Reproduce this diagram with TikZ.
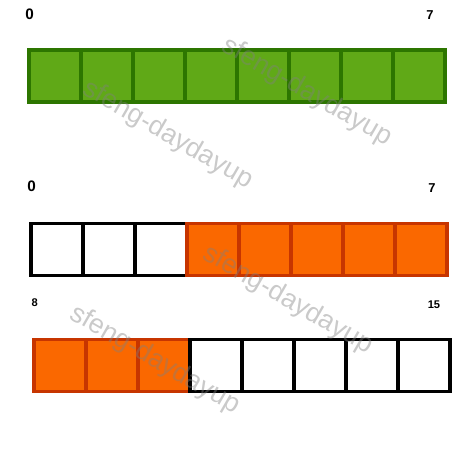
\documentclass[tikz,border=0pt]{standalone}
\usepackage{fontspec}
\setmainfont{Liberation Sans}
\usepackage{xcolor}
\usetikzlibrary{positioning}
\definecolor{CellGreen}{HTML}{60A917}
\definecolor{CellGreenLine}{HTML}{2D7600}
\definecolor{CellOrange}{HTML}{FA6800}
\definecolor{CellOrangeLine}{HTML}{C73500}
\definecolor{MarkGray}{HTML}{808080}

\begin{document}
\begin{tikzpicture}[
  x=0.03cm, y=0.03cm,
  node distance=0pt,
  cell/.style={rectangle, minimum width=1.56cm, minimum height=1.56cm, inner sep=0pt, outer sep=0pt},
  used/.style={cell, fill=CellGreen},
  taken/.style={cell, fill=CellOrange},
  free/.style={cell, fill=white},
  usedline/.style={draw=CellGreenLine, line width=3.1pt},
  takenline/.style={draw=CellOrangeLine, line width=3.1pt},
  freeline/.style={draw=black, line width=3.1pt},
  idxbig/.style={font=\fontsize{13}{13}\selectfont\bfseries, inner sep=0pt},
  idxmid/.style={font=\fontsize{11}{11}\selectfont\bfseries, inner sep=0pt},
  idxsmall/.style={font=\fontsize{9.5}{9.5}\selectfont\bfseries, inner sep=0pt},
  watermark/.style={font=\fontsize{23}{23}\selectfont, text=MarkGray, text opacity=0.42, rotate=-30, inner sep=0pt}
]
  \useasboundingbox (0,0) rectangle (465,454);

  % first row
  \node[used] (g0) at (55,378) {};
  \node[used, right=of g0] (g1) {};
  \node[used, right=of g1] (g2) {};
  \node[used, right=of g2] (g3) {};
  \node[used, right=of g3] (g4) {};
  \node[used, right=of g4] (g5) {};
  \node[used, right=of g5] (g6) {};
  \node[used, right=of g6] (g7) {};
  \foreach \c in {g0,g1,g2,g3,g4,g5,g6,g7}
    \draw[usedline] (\c.south west) rectangle (\c.north east);
  \node[idxbig] (gfirst) at (29.5,440) {0};
  \node[idxmid] (glast) at (430,439.3) {7};

  % second row
  \node[free] (a0) at (57,204.5) {};
  \node[free, right=of a0] (a1) {};
  \node[free, right=of a1] (a2) {};
  \node[taken, right=of a2] (a3) {};
  \node[taken, right=of a3] (a4) {};
  \node[taken, right=of a4] (a5) {};
  \node[taken, right=of a5] (a6) {};
  \node[taken, right=of a6] (a7) {};
  \foreach \c in {a0,a1,a2}
    \draw[freeline] (\c.south west) rectangle (\c.north east);
  \foreach \c in {a3,a4,a5,a6,a7}
    \draw[takenline] (\c.south west) rectangle (\c.north east);
  \node[idxbig] (afirst) at (31.7,267.5) {0};
  \node[idxmid] (alast) at (432,266) {7};

  % third row
  \node[taken] (b0) at (60,88.5) {};
  \node[taken, right=of b0] (b1) {};
  \node[taken, right=of b1] (b2) {};
  \node[free, right=of b2] (b3) {};
  \node[free, right=of b3] (b4) {};
  \node[free, right=of b4] (b5) {};
  \node[free, right=of b5] (b6) {};
  \node[free, right=of b6] (b7) {};
  \foreach \c in {b0,b1,b2}
    \draw[takenline] (\c.south west) rectangle (\c.north east);
  \foreach \c in {b3,b4,b5,b6,b7}
    \draw[freeline] (\c.south west) rectangle (\c.north east);
  \node[idxsmall] (bfirst) at (34.7,151.5) {8};
  \node[idxsmall] (blast) at (434,149) {15};

  % watermarks
  \node[watermark] (wmA) at (307,362) {sfeng-daydayup};
  \node[watermark] (wmB) at (168,319) {sfeng-daydayup};
  \node[watermark] (wmC) at (288,154) {sfeng-daydayup};
  \node[watermark] (wmD) at (155,94) {sfeng-daydayup};
\end{tikzpicture}
\end{document}
